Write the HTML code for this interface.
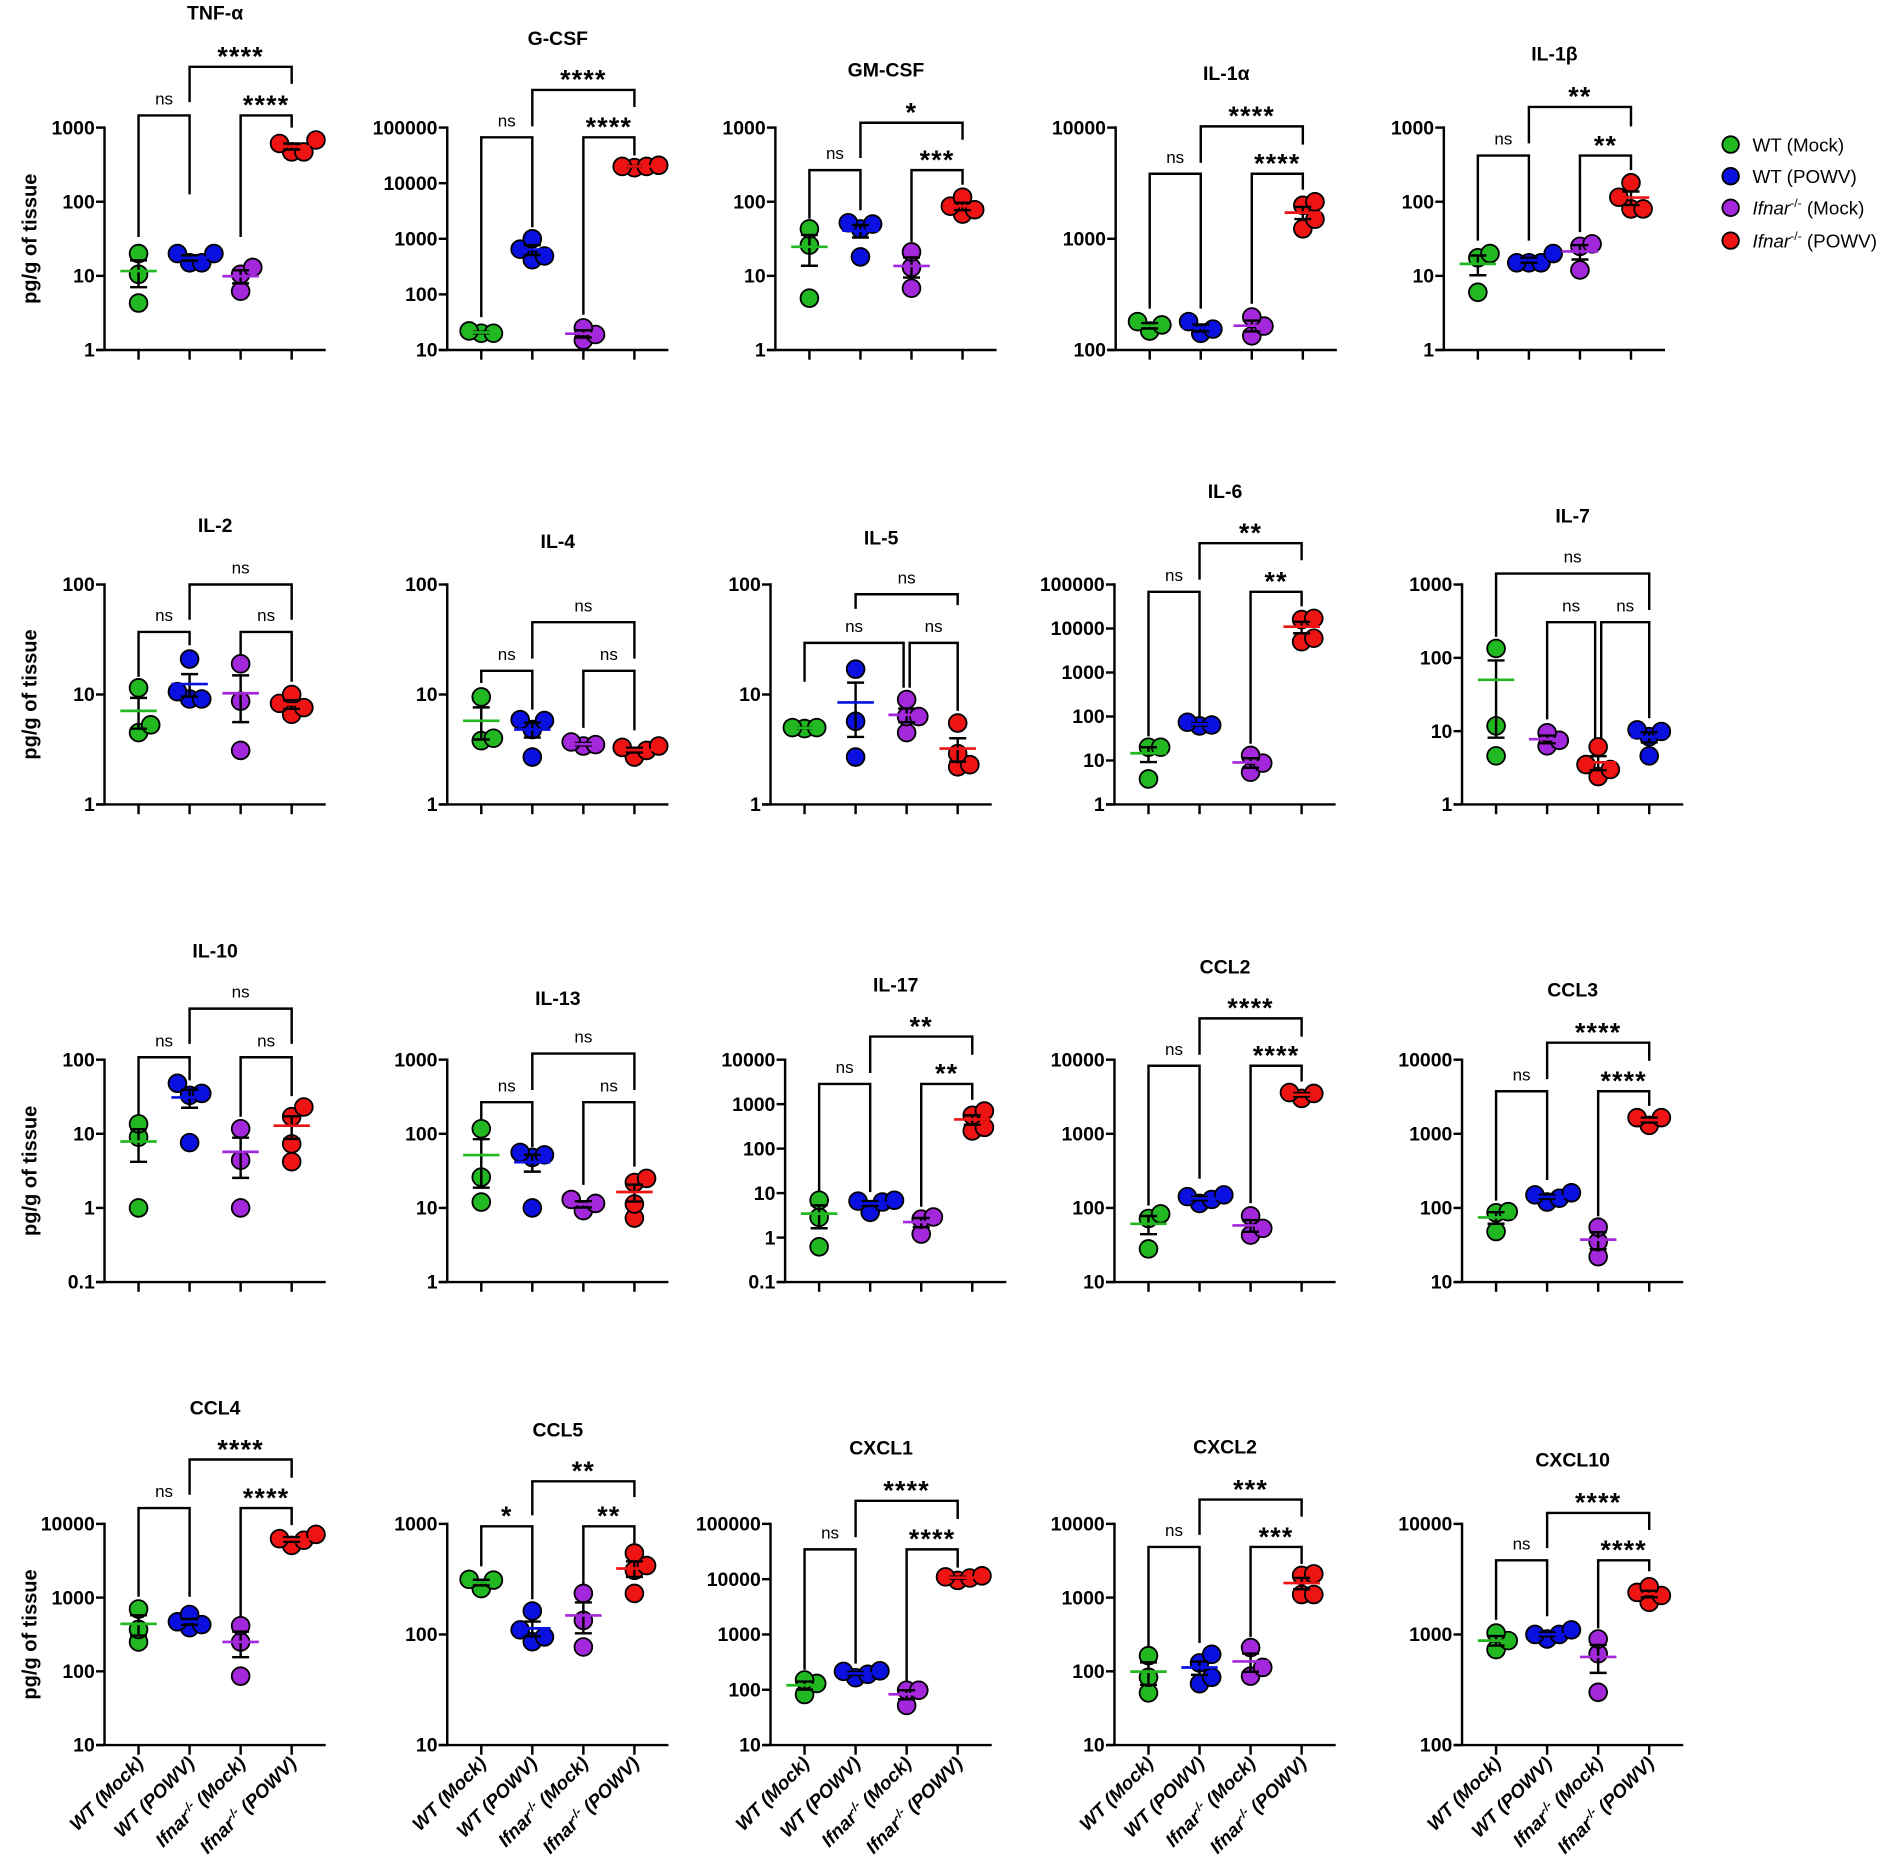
<!DOCTYPE html>
<html><head><meta charset="utf-8"><title>Cytokine panels</title>
<style>
html,body{margin:0;padding:0;background:#fff;}
svg{display:block;font-family:"Liberation Sans",Arial,sans-serif;}
</style></head>
<body>
<svg id="fig" xmlns="http://www.w3.org/2000/svg" width="1902" height="1869" viewBox="0 0 1565 1538" preserveAspectRatio="none">
<g id="legend" font-size="15.5" fill="#000">
  <g><circle cx="1424" cy="119" r="6.8" fill="#22b822" stroke="#000" stroke-width="1.5"/><text x="1442" y="124.5">WT (Mock)</text></g>
  <g><circle cx="1424" cy="145" r="6.8" fill="#0a10e0" stroke="#000" stroke-width="1.5"/><text x="1442" y="150.5">WT (POWV)</text></g>
  <g><circle cx="1424" cy="171" r="6.8" fill="#a328dc" stroke="#000" stroke-width="1.5"/><text x="1442" y="176.5"><tspan font-style="italic">Ifnar</tspan><tspan font-size="10" dy="-6">-/-</tspan><tspan dy="6"> (Mock)</tspan></text></g>
  <g><circle cx="1424" cy="198" r="6.8" fill="#ee1414" stroke="#000" stroke-width="1.5"/><text x="1442" y="203.5"><tspan font-style="italic">Ifnar</tspan><tspan font-size="10" dy="-6">-/-</tspan><tspan dy="6"> (POWV)</tspan></text></g>
</g>
</svg>
<script>
// ---- data (pg/g of tissue) ----
const panelNames = ["TNF-α","G-CSF","GM-CSF","IL-1α","IL-1β","IL-2","IL-4","IL-5","IL-6","IL-7","IL-10","IL-13","IL-17","CCL2","CCL3","CCL4","CCL5","CXCL1","CXCL2","CXCL10"];
const groupLabels = ["WT (Mock)","WT (POWV)","Ifnar-/- (Mock)","Ifnar-/- (POWV)"];
const tickMinExp = [0,1,0,2,0, 0,0,0,0,0, -1,0,-1,1,1, 1,1,1,1,2];
const tickMaxExp = [3,5,3,4,3, 2,2,2,5,3, 2,3,4,4,4, 4,3,5,4,4];
const wtMock = [
[20,10.5,4.3],[20,22,20],[43,26,5],[148,180,168],[20,17.5,6],
[11.5,5.3,4.5],[9.5,3.8,4.0],[4.9,5.0,5.0],[20,20,3.8],[134,11.8,4.6],
[13.6,9,1],[117,26,12],[6.9,2.85,0.62],[83,72,28],[89,86,48],
[700,370,250],[260,310,315],[150,130,82],[163,83,51],[1030,880,730]];
const wtPowv = [
[15,20,15,20],[490,1000,650,420],[52,43,50,18],[141,180,154],[15,20,15,15],
[21,9.1,9.1,10.6],[5.9,5.8,4.8,2.7],[17,5.7,2.7],[61,74,64],[10.4,9.9,8.4,4.6],
[48,35,33,7.6],[56,52,48,10],[6.6,3.7,6.3,6.9],[115,150,142,130],[120,160,150,135],
[590,390,430,470],[86,163,110,95],[165,220,215,190],[170,130,68,83],[910,1100,1000,1000]];
const ifnarMock = [
[13,10.5,6.2],[15,25,19],[21,13,6.8],[198,134,164],[27,25,12],
[19,8.7,3.1],[3.4,3.7,3.5],[9,6.3,6.3,4.5],[13,5.4,8.7],[9.5,6.3,7.5],
[11.7,4.4,1],[13,9.2,11.5],[2.9,2.6,1.2],[78,53,43],[55,35,22],
[415,250,86],[235,134,77],[98,98,52],[210,113,86],[910,670,300]];
const ifnarPowv = [
[470,680,470,610],[19000,21000,20000,20000],[115,87,78,68],[2000,2150,1500,1230],[180,115,80,80],
[10,8.3,7.6,6.6],[2.7,3.3,3.4,3.1],[5.5,2.9,2.2,2.3],[16000,17000,5000,6000],[6.1,3.5,3.0,2.4],
[17,23,7.3,4.2],[22,25,11.3,7.3],[700,560,300,250],[3000,3600,3500],[1300,1650,1650],
[5100,7200,6300,6000],[545,420,380,235],[9500,10500,11000,11500],[2000,2100,1100,1100],[2700,2400,2250,1950]];
const sigLabels = [
["ns","****","****"],["ns","****","****"],["ns","*","***"],["ns","****","****"],["ns","**","**"],
["ns","ns","ns"],["ns","ns","ns"],["ns","ns","ns"],["ns","**","**"],["ns","ns","ns"],
["ns","ns","ns"],["ns","ns","ns"],["ns","**","**"],["ns","****","****"],["ns","****","****"],
["ns","****","****"],["*","**","**"],["ns","****","****"],["ns","***","***"],["ns","****","****"]];

// ---- layout (not data) ----
const rowTop=[105,481,872,1254], rowBot=[288,662,1055,1436];
const colX=[[86,368,638,918,1188],[86,368,634,917,1203],[86,368,646,917,1203],[86,368,634,917,1203]];
const titleY=[11,32,58,61,45, 433,446,443,405,425, 783,822,811,796,815, 1159,1177,1192,1191,1202];
const colors=["#22b822","#0a10e0","#a328dc","#ee1414"];
const keys=["wt-mock","wt-powv","ifnar-mock","ifnar-powv"];
const brk=[
[[0,1,95,195,160],[1,3,55,84,69],[2,3,95,195,105]],
[[0,1,113,261,187],[1,3,74,104,88],[2,3,113,259,128]],
[[0,1,140,180,173],[1,3,101,130,115],[2,3,140,199,152]],
[[0,1,143,254,254],[1,3,104,134,119],[2,3,143,250,156]],
[[0,1,128,198,198],[1,3,88,118,104],[2,3,128,191,140]],
[[0,1,520,557,531],[1,3,481,510,510],[2,3,520,540,561]],
[[0,1,552,562,584],[1,3,512,542,542],[2,3,552,599,601]],
[[0,2,529,561,566,0,-2.5],[1,3,489,501,498],[2,3,529,566,585,2.5,0]],
[[0,1,487,606,590],[1,3,447,477,461],[2,3,487,612,499]],
[[0,3,472,524,502],[1,2,512,592,612,0,-2.5],[2,3,512,612,591,2.5,0]],
[[0,1,870,919,889],[1,3,830,859,859],[2,3,870,919,902]],
[[0,1,907,924,944],[1,3,867,897,897],[2,3,907,975,960]],
[[0,1,892,981,981],[1,3,853,883,868],[2,3,892,993,905]],
[[0,1,877,992,970],[1,3,838,868,853],[2,3,877,990,890]],
[[0,1,898,988,971],[1,3,858,888,873],[2,3,898,1001,910]],
[[0,1,1241,1314,1314],[1,3,1201,1230,1216],[2,3,1241,1330,1255]],
[[0,1,1256,1289,1316],[1,3,1219,1247,1232],[2,3,1256,1306,1270]],
[[0,1,1275,1374,1369],[1,3,1235,1265,1250],[2,3,1275,1383,1290]],
[[0,1,1273,1355,1352],[1,3,1234,1263,1248],[2,3,1273,1347,1287]],
[[0,1,1284,1333,1330],[1,3,1245,1274,1259],[2,3,1284,1340,1293]]];

const NS="http://www.w3.org/2000/svg";
const svg=document.getElementById('fig');
function mk(tag,attrs,parent){const e=document.createElementNS(NS,tag);for(const k in attrs)e.setAttribute(k,attrs[k]);(parent||svg).appendChild(e);return e;}
function tickText(e){if(e<0)return (Math.pow(10,e)).toFixed(-e);return String(Math.round(Math.pow(10,e)));}

for(let p=0;p<panelNames.length;p++){
  const row=Math.floor(p/5), col=p%5;
  const ax=colX[row][col], top=rowTop[row], bot=rowBot[row];
  const lo=tickMinExp[p], hi=tickMaxExp[p];
  const yScale=v=>bot-(Math.log10(Math.max(v,Math.pow(10,lo)))-lo)/(hi-lo)*(bot-top);
  const slots = p===9 ? [0,3,1,2] : [0,1,2,3];
  const xSlot=s=>ax+28+s*42;
  const g=mk('g',{});
  
  
  const t=mk('text',{x:ax+91,y:titleY[p],'text-anchor':'middle','dominant-baseline':'central','font-size':16,'font-weight':'bold'},g);
  
  
  t.textContent=panelNames[p];
  const ya=mk('line',{x1:ax,y1:top-1,x2:ax,y2:bot,stroke:'#000','stroke-width':2},g);
  
  
  const xa=mk('line',{x1:ax-7,y1:bot,x2:ax+182,y2:bot,stroke:'#000','stroke-width':2},g);
  
  
  for(let e=lo;e<=hi;e++){
    const y=yScale(Math.pow(10,e));
    const tk=mk('line',{x1:ax-7,y1:y,x2:ax,y2:y,stroke:'#000','stroke-width':2},g);
    
    
    const tl=mk('text',{x:ax-8,y:y+5.5,'text-anchor':'end','font-size':16,'font-weight':'bold'},g);
    
    
    tl.textContent=tickText(e);
  }
  for(let s=0;s<4;s++){
    const xt=mk('line',{x1:xSlot(s),y1:bot,x2:xSlot(s),y2:bot+8,stroke:'#000','stroke-width':2},g);
    
    
  }
  if(col===0){
    const cy=(top+bot)/2;
    const yt=mk('text',{x:25,y:cy,transform:'rotate(-90 25 '+cy+')','text-anchor':'middle','dominant-baseline':'central','font-size':16.5,'font-weight':'bold'},g);
    
    
    yt.textContent='pg/g of tissue';
  }
  brk[p].forEach((b,i)=>{
    const x1=xSlot(b[0])+(b[5]||0), x2=xSlot(b[1])+(b[6]||0);
    const pl=mk('polyline',{points:`${x1},${b[3]} ${x1},${b[2]} ${x2},${b[2]} ${x2},${b[4]}`,fill:'none',stroke:'#000','stroke-width':2},g);
    
    
    const lab=sigLabels[p][i];
    const isNs=lab==='ns';
    const st=mk('text',{x:(x1+x2)/2,y:isNs?b[2]-9:b[2]-1,'text-anchor':'middle','font-size':isNs?14:22,'font-weight':isNs?'normal':'bold','letter-spacing':isNs?0:1},g);
    
    
    st.textContent=lab;
  });
  const groups=[wtMock[p],wtPowv[p],ifnarMock[p],ifnarPowv[p]];
  const overlay=[];
  groups.forEach((vals,gi)=>{
    const cx=xSlot(slots[gi]);
    const gg=mk('g',{},g);
    
    
    const pts=vals.map(v=>({v,y:yScale(v)})).sort((a,b)=>a.v-b.v);
    const placed=[];
    const cands=[0,10,-10,20,-20,30,-30];
    pts.forEach(pt=>{
      let off=0;
      for(const c of cands){
        if(placed.every(q=>Math.hypot(q.x-c,q.y-pt.y)>=10)){off=c;break;}
      }
      placed.push({x:off,y:pt.y});
      const c=mk('circle',{cx:cx+off,cy:pt.y,r:7.3,fill:colors[gi],stroke:'#000','stroke-width':1.5},gg);
      
      
    });
    const n=vals.length, mean=vals.reduce((a,b)=>a+b,0)/n;
    const sd=Math.sqrt(vals.reduce((a,b)=>a+(b-mean)*(b-mean),0)/(n-1));
    const sem=sd/Math.sqrt(n);
    overlay.push({cx,gi,mean,sem,gg});
  });
  overlay.forEach(o=>{
    const yh=yScale(o.mean+o.sem), yl=yScale(Math.max(o.mean-o.sem,1e-9)), ym=yScale(o.mean);
    const eb=mk('path',{d:`M${o.cx},${yh}V${yl}M${o.cx-7},${yh}H${o.cx+7}M${o.cx-7},${yl}H${o.cx+7}`,fill:'none',stroke:'#000','stroke-width':2},o.gg);
    
    
    const ml=mk('line',{x1:o.cx-15,y1:ym,x2:o.cx+15,y2:ym,stroke:colors[o.gi],'stroke-width':2.2},o.gg);
    
    
  });
  if(row===3){
    groups.forEach((vals,gi)=>{
      const x=xSlot(slots[gi])+5, y=bot+16;
      const tx=mk('text',{x:x,y:y,transform:`rotate(-45 ${x} ${y})`,'text-anchor':'end','font-size':15.5,'font-weight':'bold','font-style':'italic'},g);
      
      
      const lab=groupLabels[gi];
      if(lab.startsWith('Ifnar')){
        const a=mk('tspan',{},tx);a.textContent='Ifnar';
        const b=mk('tspan',{'font-size':10,dy:-6},tx);b.textContent='-/-';
        const c=mk('tspan',{dy:6},tx);c.textContent=lab.slice(8);
      } else tx.textContent=lab;
    });
  }
}
</script>
</body></html>
